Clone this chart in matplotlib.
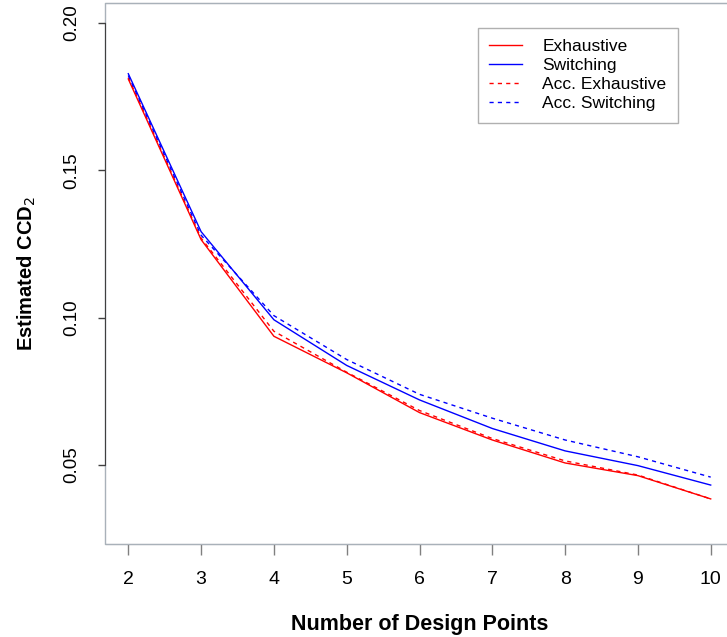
import numpy as np
import matplotlib
matplotlib.use("Agg")
import matplotlib.pyplot as plt
from matplotlib.patches import Rectangle
from matplotlib.lines import Line2D

plt.rcParams["font.family"] = ["Liberation Sans", "DejaVu Sans"]

design_points = [2, 3, 4, 5, 6, 7, 8, 9, 10]
exhaustive = [0.1810, 0.1265, 0.0937, 0.0813, 0.0678, 0.0585, 0.0507, 0.0464, 0.0385]
switching = [0.1828, 0.1292, 0.0993, 0.0838, 0.0721, 0.0624, 0.0548, 0.0498, 0.0432]
acc_exhaustive = [0.1815, 0.1270, 0.0954, 0.0815, 0.0685, 0.0590, 0.0514, 0.0466, 0.0385]
acc_switching = [0.1822, 0.1280, 0.1007, 0.0858, 0.0740, 0.0659, 0.0585, 0.0528, 0.0459]

x_ticks = [2, 3, 4, 5, 6, 7, 8, 9, 10]
y_ticks = [0.05, 0.10, 0.15, 0.20]

W, H = 727, 637
fig = plt.figure(figsize=(W / 100, H / 100), dpi=100)
ax = fig.add_axes([105 / W, 93 / H, 629 / W, 541 / H])

lw = 1.0
ax.plot(design_points, exhaustive, color="#ff0000", lw=lw)
ax.plot(design_points, switching, color="#0000ff", lw=lw)
ax.plot(design_points, acc_exhaustive, color="#ff0000", lw=lw, dashes=(3, 3))
ax.plot(design_points, acc_switching, color="#0000ff", lw=lw, dashes=(3, 3))

# R-style limits with 4% padding
pad_x = (10 - 2) * 0.04
pad_y = (0.20 - 0.03) * 0.04
ax.set_xlim(2 - pad_x, 10 + pad_x)
ax.set_ylim(0.03 - pad_y, 0.20 + pad_y)

frame_col = "#a9b1b9"
for s in ["top", "right", "bottom"]:
    ax.spines[s].set_color(frame_col)
ax.add_patch(Rectangle((0, 0), 1, 1, transform=ax.transAxes, fill=False,
                       edgecolor=frame_col, lw=1.0, clip_on=False, zorder=0))
ax.spines["left"].set_bounds(0.05, 0.20)
ax.spines["left"].set_color("#404040")

ax.set_xticks(x_ticks)
ax.set_xticklabels([str(v) for v in x_ticks])
ax.set_yticks(y_ticks)
ax.set_yticklabels(["%.2f" % v for v in y_ticks], rotation=90, va="center")
ax.tick_params(axis="x", length=8, width=1, color="#808080", pad=11.5, labelsize=14)
ax.tick_params(axis="y", length=5, width=1, color="#404040", pad=13, labelsize=13.5)

ax.set_xlabel("Number of Design Points", fontsize=15.5, fontweight="bold", labelpad=19)
ax.set_ylabel("Estimated CCD$_2$", fontsize=14.5, fontweight="bold", labelpad=18)

handles = [
    Line2D([], [], color="#ff0000", lw=lw),
    Line2D([], [], color="#0000ff", lw=lw),
    Line2D([], [], color="#ff0000", lw=lw, dashes=(3, 3)),
    Line2D([], [], color="#0000ff", lw=lw, dashes=(3, 3)),
]
labels = ["Exhaustive", "Switching", "Acc. Exhaustive", "Acc. Switching"]
leg = fig.legend(handles, labels, loc="upper left",
                 bbox_to_anchor=(478 / W, 1 - 28 / H), fontsize=12.5,
                 fancybox=False, edgecolor="#b0b0b0", framealpha=1,
                 handlelength=1.9, handletextpad=1.15, labelspacing=0.22,
                 borderpad=0.65, borderaxespad=0)
leg.get_frame().set_linewidth(1.0)

fig.savefig("out.png", dpi=100)
